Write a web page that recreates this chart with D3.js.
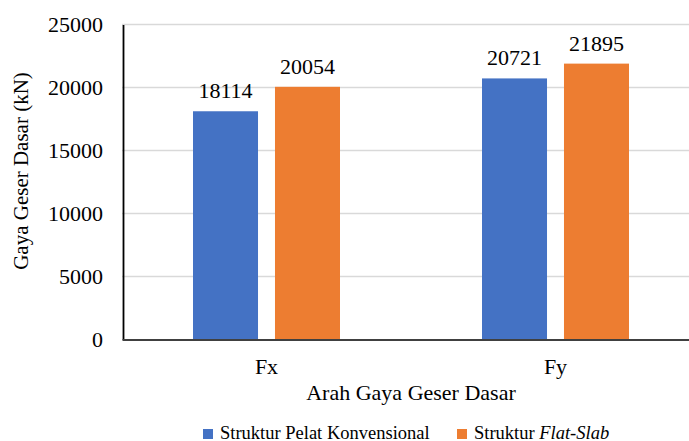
<!DOCTYPE html>
<html>
<head>
<meta charset="utf-8">
<script src="https://cdn.jsdelivr.net/npm/d3@7"></script>
<style>
  html, body { margin: 0; padding: 0; background: #fff; }
  svg { display: block; }
</style>
</head>
<body>
<svg id="chart" width="689" height="441"></svg>
<script>
// Base shear per direction for the two structural systems
const categories = ["Fx", "Fy"];
const seriesNames = ["Struktur Pelat Konvensional", "Struktur Flat-Slab"];
const konvensional = [18114, 20721];
const flatSlab = [20054, 21895];
const yTicks = [0, 5000, 10000, 15000, 20000, 25000];
const colors = ["#4472c4", "#ed7d31"];

const fontName = "Liberation Serif";
const FONT = `'${fontName}'`;
const svg = d3.select("#chart");
const margin = { left: 122, right: -11, top: 24.5, bottom: 101.5 };
const W = 689, H = 441;

const x = d3.scaleBand()
  .domain(categories)
  .range([margin.left, W - margin.right])
  .paddingInner(0).paddingOuter(0);

const x1 = d3.scaleBand()
  .domain([0, 1])
  .range([0, x.bandwidth()])
  .paddingInner(0.207)
  .paddingOuter(0.866);

const y = d3.scaleLinear()
  .domain([0, 25000])
  .range([H - margin.bottom, margin.top]);

// horizontal gridlines
svg.append("g")
  .selectAll("line")
  .data(yTicks.filter(d => d > 0))
  .join("line")
  .attr("x1", margin.left).attr("x2", W)
  .attr("y1", d => y(d)).attr("y2", d => y(d))
  .attr("stroke", "#d9d9d9").attr("stroke-width", 1.5);

// bars
const data = categories.map((c, i) => ({ cat: c, vals: [konvensional[i], flatSlab[i]] }));
const groups = svg.append("g").selectAll("g")
  .data(data).join("g")
  .attr("transform", d => `translate(${x(d.cat)},0)`);

groups.selectAll("rect")
  .data(d => d.vals.map((v, k) => ({ v, k })))
  .join("rect")
  .attr("x", d => x1(d.k))
  .attr("width", x1.bandwidth())
  .attr("y", d => y(d.v))
  .attr("height", d => y(0) - y(d.v))
  .attr("fill", d => colors[d.k]);

groups.selectAll("text.val")
  .data(d => d.vals.map((v, k) => ({ v, k })))
  .join("text")
  .attr("class", "val")
  .attr("x", d => x1(d.k) + x1.bandwidth() / 2)
  .attr("y", d => y(d.v) - 13)
  .attr("text-anchor", "middle")
  .style("font-family", FONT).style("font-size", "22px")
  .text(d => d.v);

// y axis
const yAxis = d3.axisLeft(y).tickValues(yTicks).tickSize(0).tickPadding(20).tickFormat(d3.format("d"));
const gy = svg.append("g").attr("transform", `translate(${margin.left + 1},0)`).call(yAxis);
gy.attr("font-family", null).attr("font-size", null);
gy.select(".domain").attr("stroke", "#000").attr("stroke-width", 1.8);
gy.selectAll("text").attr("dy", "0.32em").attr("fill", "#000")
  .style("font-family", FONT).style("font-size", "22px");

// x axis
const xAxis = d3.axisBottom(x).tickSize(0).tickPadding(0);
const gx = svg.append("g").attr("transform", `translate(0,${y(0)})`).call(xAxis);
gx.attr("font-family", null).attr("font-size", null);
gx.select(".domain").attr("stroke", "#404040").attr("stroke-width", 1.8);
gx.selectAll("text").attr("y", 34.5).attr("dy", null).attr("fill", "#000")
  .style("font-family", FONT).style("font-size", "22px");

// axis titles
svg.append("text")
  .attr("x", 411).attr("y", 400)
  .attr("text-anchor", "middle")
  .style("font-family", FONT).style("font-size", "22px")
  .text("Arah Gaya Geser Dasar");

svg.append("text")
  .attr("transform", `translate(28,171) rotate(-90)`)
  .attr("text-anchor", "middle")
  .style("font-family", FONT).style("font-size", "21px")
  .text("Gaya Geser Dasar (kN)");

// legend
const legend = svg.append("g");
const lx = [203, 457];
seriesNames.forEach((name, i) => {
  legend.append("rect")
    .attr("x", lx[i]).attr("y", 429)
    .attr("width", 10).attr("height", 10)
    .attr("fill", colors[i]);
  const t = legend.append("text")
    .attr("x", lx[i] + 17).attr("y", 438.5)
    .style("font-family", FONT).style("font-size", "18.5px");
  if (i === 0) {
    t.text(name);
  } else {
    t.append("tspan").text("Struktur ");
    t.append("tspan").style("font-style", "italic").text("Flat-Slab");
  }
});
</script>
</body>
</html>
